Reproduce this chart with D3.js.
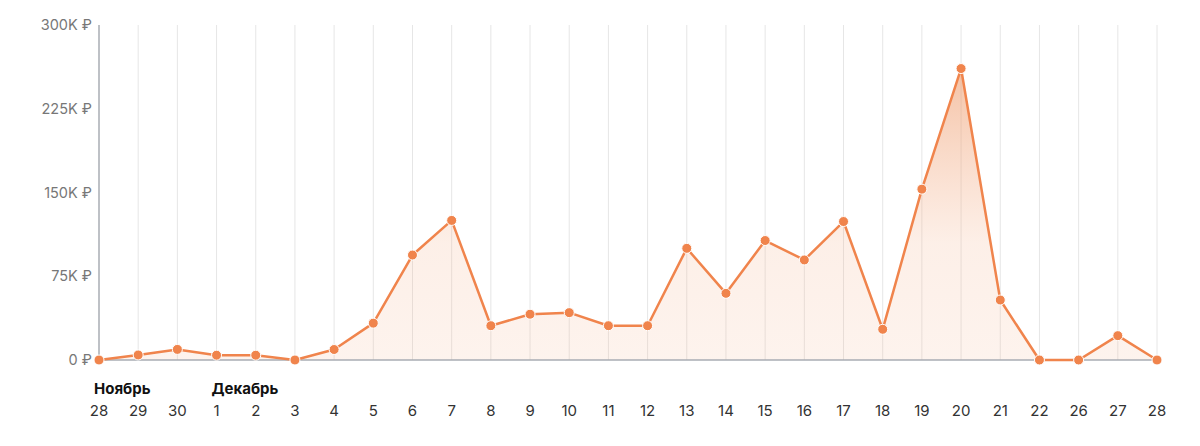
<!DOCTYPE html>
<html>
<head>
<meta charset="utf-8">
<script src="https://cdn.jsdelivr.net/npm/d3@7"></script>
<style>
  body { margin: 0; background: #fff; }
  svg text { font-family: Inter, "Noto Sans", sans-serif; }
</style>
</head>
<body>
<svg id="chart" width="1200" height="446"></svg>
<script>
// day labels along the bottom (Nov 28 .. Dec 28, with gaps)
var days = ["28","29","30","1","2","3","4","5","6","7","8","9","10","11","12",
            "13","14","15","16","17","18","19","20","21","22","26","27","28"];
// revenue, thousands of roubles
var revenue = [0, 4.5, 9.5, 4.3, 4.3, 0, 9.4, 33, 94, 125, 30.7, 41, 42.4, 30.7, 30.7,
               100, 59.7, 107, 89.6, 124, 27.5, 153, 261, 53.7, 0, 0, 21.8, 0];
var yTicks = [0, 75, 150, 225, 300];
// month names and the index of the day they sit above
var months = [{name: "Ноябрь", idx: 0}, {name: "Декабрь", idx: 3}];

var data = days.map(function(d, i) { return {i: i, day: d, v: revenue[i]}; });

var mLeft = 99, mRight = 1157, mTop = 25, mBottom = 360;
var svg = d3.select("#chart");

var x = d3.scaleLinear().domain([0, days.length - 1]).range([mLeft, mRight]);
var y = d3.scaleLinear().domain([0, 300]).range([mBottom, mTop]);

// gradient for the area fill
var grad = svg.append("defs").append("linearGradient")
  .attr("id", "fillGrad")
  .attr("gradientUnits", "userSpaceOnUse")
  .attr("x1", 0).attr("y1", y(261)).attr("x2", 0).attr("y2", mBottom);
grad.append("stop").attr("offset", "0%").attr("stop-color", "#ee9a6a").attr("stop-opacity", 0.6);
grad.append("stop").attr("offset", "60%").attr("stop-color", "#f4b08a").attr("stop-opacity", 0.2);
grad.append("stop").attr("offset", "100%").attr("stop-color", "#f4b08a").attr("stop-opacity", 0.15);

// vertical grid lines
svg.append("g").selectAll("line")
  .data(data.slice(1))
  .enter().append("line")
  .attr("x1", function(d) { return x(d.i); })
  .attr("x2", function(d) { return x(d.i); })
  .attr("y1", mTop)
  .attr("y2", mBottom)
  .attr("stroke", "#e6e6e6")
  .attr("stroke-width", 1);

// area under the line
var area = d3.area()
  .x(function(d) { return x(d.i); })
  .y0(mBottom)
  .y1(function(d) { return y(d.v); });
svg.append("path")
  .datum(data)
  .attr("d", area)
  .attr("fill", "url(#fillGrad)");

// axis lines
svg.append("line")
  .attr("x1", mLeft).attr("x2", mLeft).attr("y1", mTop).attr("y2", mBottom)
  .attr("stroke", "#a9adb3").attr("stroke-width", 1.5);
svg.append("line")
  .attr("x1", mLeft).attr("x2", mRight).attr("y1", mBottom).attr("y2", mBottom)
  .attr("stroke", "#a9adb3").attr("stroke-width", 1.5);

// y labels
svg.append("g").selectAll("text")
  .data(yTicks)
  .enter().append("text")
  .attr("x", mLeft - 7)
  .attr("y", function(d) { return y(d); })
  .attr("dy", "0.35em")
  .attr("text-anchor", "end")
  .attr("fill", "#777")
  .attr("font-size", 14.5)
  .text(function(d) { return (d === 0 ? "0" : d + "K") + " ₽"; });

// line
var line = d3.line()
  .x(function(d) { return x(d.i); })
  .y(function(d) { return y(d.v); });
svg.append("path")
  .datum(data)
  .attr("d", line)
  .attr("fill", "none")
  .attr("stroke", "#f0844c")
  .attr("stroke-width", 2.5)
  .attr("stroke-linejoin", "round");

// points
svg.append("g").selectAll("circle")
  .data(data)
  .enter().append("circle")
  .attr("cx", function(d) { return x(d.i); })
  .attr("cy", function(d) { return y(d.v); })
  .attr("r", 5)
  .attr("fill", "#f0844c")
  .attr("stroke", "#fff")
  .attr("stroke-width", 1);

// day labels
svg.append("g").selectAll("text")
  .data(data)
  .enter().append("text")
  .attr("x", function(d) { return x(d.i); })
  .attr("y", 416)
  .attr("text-anchor", "middle")
  .attr("fill", "#333")
  .attr("font-size", 15)
  .text(function(d) { return d.day; });

// month labels
svg.append("g").selectAll("text")
  .data(months)
  .enter().append("text")
  .attr("x", function(d) { return x(d.idx) - 5; })
  .attr("y", 394)
  .attr("fill", "#111")
  .attr("font-size", 15)
  .attr("font-weight", "bold")
  .text(function(d) { return d.name; });
</script>
</body>
</html>
